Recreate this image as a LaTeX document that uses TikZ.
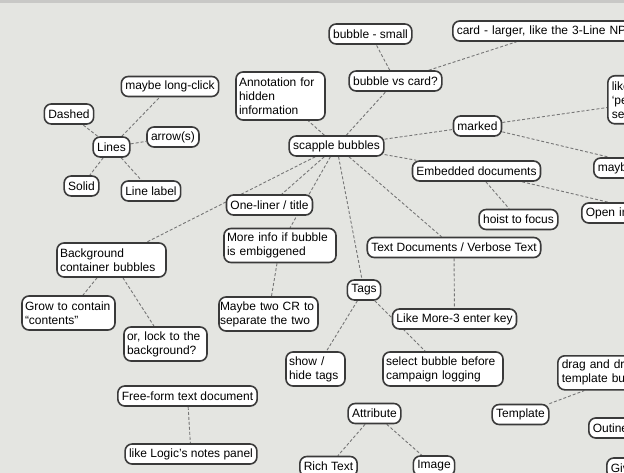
\documentclass[tikz,border=0pt]{standalone}
\usepackage{fontspec}
\setmainfont{Liberation Sans}
\usepackage{xcolor}
\usepackage{tikz}
\definecolor{canvas}{RGB}{228,229,225}
\definecolor{topbar}{RGB}{200,200,198}
\definecolor{rim}{RGB}{58,58,58}
\definecolor{linkgray}{RGB}{118,118,118}

\pgfdeclarelayer{background}
\pgfdeclarelayer{links}
\pgfsetlayers{background,links,main}

\tikzset{
  bubble/.style={draw=rim, line width=1.6pt, fill=white, rounded corners=7pt,
    inner xsep=4pt, inner ysep=3pt, minimum height=20pt,
    font=\fontsize{12}{14}\selectfont},
  note/.style={bubble, inner xsep=3pt, align=left, text width=#1, minimum height=34pt},
  cut/.style={bubble, anchor=west, align=left, text width=#1},
  link/.style={draw=linkgray, line width=0.9pt, dash pattern=on 3pt off 2pt}
}

\begin{document}
\begin{tikzpicture}[x=1pt, y=-1pt]
\useasboundingbox (0,0) rectangle (624,473);
\clip (0,0) rectangle (624,473);

\begin{pgfonlayer}{background}
\fill[canvas] (0,0) rectangle (624,473);
\fill[topbar] (0,0) rectangle (624,3);
\end{pgfonlayer}

% lines cluster
\node[bubble] (lines) at (111.5,147) {Lines};
\node[bubble] (dashed) at (69,114) {Dashed};
\node[bubble] (longclick) at (170,86.5) {maybe long-click};
\node[bubble] (arrows) at (173,137) {arrow(s)};
\node[bubble] (solid) at (81.5,186) {Solid};
\node[bubble] (linelabel) at (151,191) {Line label};

% centre
\node[bubble] (scapple) at (336.5,146) {scapple bubbles};
\node[note=83pt, minimum height=48pt] (annot) at (280.5,96) {Annotation for\\hidden\\information};
\node[bubble] (vscard) at (395.5,81) {bubble vs card?};
\node[bubble] (small) at (370.5,34) {bubble - small};
\node[cut=186pt] (card) at (452,31) {card - larger, like the 3-Line NPC};
\node[bubble] (marked) at (477.5,126) {marked};
\node[cut=100pt, anchor=north west, minimum height=48pt] (peek) at (607,75) {like\\‘pe\\sel};
\node[cut=114pt] (mayb) at (593,168) {mayb};
\node[bubble] (embedded) at (476.5,171) {Embedded documents};
\node[bubble] (hoist) at (518.5,219.5) {hoist to focus};
\node[cut=136pt] (openin) at (581,213) {Open in};

% left branch
\node[bubble] (oneliner) at (269.5,205) {One-liner / title};
\node[note=106pt] (moreinfo) at (280,245.5) {More info if bubble\\is embiggened};
\node[note=97pt, inner xsep=1pt] (twocr) at (268.5,314) {Maybe two CR to\\separate the two};
\node[note=103pt] (backgr) at (111.5,260) {Background\\container bubbles};
\node[note=87pt] (grow) at (68.5,313) {Grow to contain\\“contents”};
\node[note=77pt] (lock) at (165.5,344) {or, lock to the\\background?};

% lower branch
\node[bubble] (textdocs) at (454,247.5) {Text Documents / Verbose Text};
\node[bubble] (tags) at (364,290) {Tags};
\node[bubble] (likemore) at (454.5,319) {Like More-3 enter key};
\node[note=53pt] (showtags) at (315.5,369) {show /\\hide tags};
\node[note=114pt] (select) at (443,369) {select bubble before\\campaign logging};

% loose groups
\node[bubble] (freeform) at (187.5,396) {Free-form text document};
\node[bubble] (logic) at (191,454) {like Logic’s notes panel};
\node[bubble] (attribute) at (374.5,413.5) {Attribute};
\node[bubble] (richtext) at (328.5,466.5) {Rich Text};
\node[bubble] (image) at (434,466) {Image};
\node[bubble] (template) at (520.5,414.5) {Template};
\node[cut=140pt, anchor=north west, minimum height=34pt] (drag) at (557,355) {drag and dro\\template bub};
\node[cut=80pt] (outine) at (588,428) {Outine};
\node[cut=60pt] (giv) at (606,468) {Giv};

\begin{pgfonlayer}{links}
\foreach \a/\b in {
    lines/dashed, lines/longclick, lines/arrows, lines/solid, lines/linelabel,
    scapple/annot, scapple/vscard, vscard/small, vscard/card,
    scapple/marked, marked/peek, marked/mayb,
    scapple/embedded, embedded/hoist, embedded/openin,
    scapple/backgr, scapple/oneliner, scapple/moreinfo, moreinfo/twocr,
    backgr/grow, backgr/lock,
    scapple/textdocs, textdocs/likemore, scapple/tags,
    tags/showtags, tags/select,
    freeform/logic, attribute/richtext, attribute/image, template/drag}
    \draw[link] (\a) -- (\b);
\end{pgfonlayer}

\end{tikzpicture}
\end{document}
